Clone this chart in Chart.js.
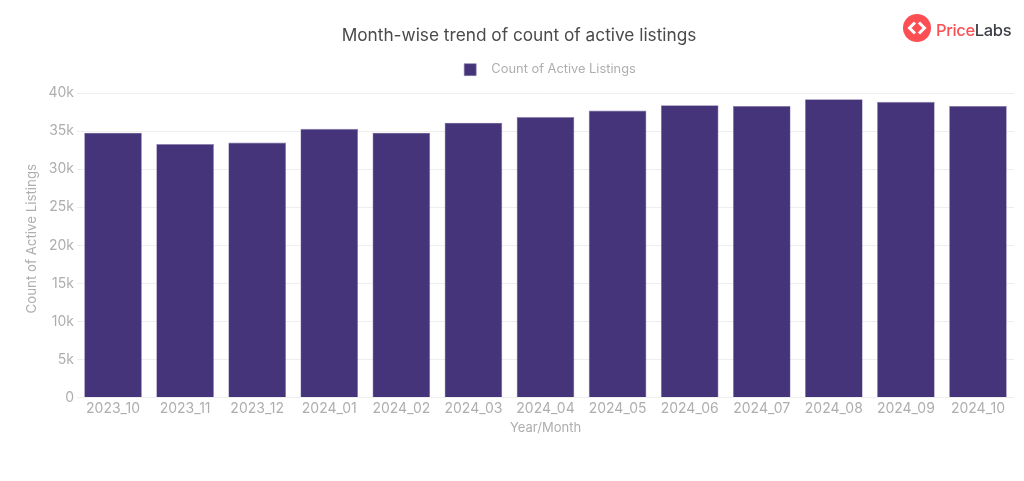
<!DOCTYPE html>
<html>
<head>
<meta charset="utf-8">
<title>Month-wise trend of count of active listings</title>
<script src="https://cdn.jsdelivr.net/npm/chart.js@4.4.7/dist/chart.umd.min.js"></script>
<style>
    html, body { margin: 0; padding: 0; background: #fff; overflow: hidden; }
    #wrap { position: relative; width: 1024px; height: 481px; }
    #logo { position: absolute; left: 903px; top: 14px; height: 28px; display: flex; align-items: center; }
    #logo span { font: 500 16.5px Inter, sans-serif; margin-left: 5px; color: #fb4f53; letter-spacing: -0.35px; padding-top: 3px; }
    #logo b { font-weight: 500; color: #3c3f46; }
</style>
</head>
<body>
<div id="wrap">
    <canvas id="chart" width="1024" height="481"></canvas>
    <div id="logo">
        <svg width="28" height="28" viewBox="0 0 28 28">
            <circle cx="14" cy="14" r="14" fill="#fb4f53"/>
            <path d="M12 8.5 L6.5 14 L12 19.5 M16 8.5 L21.5 14 L16 19.5" fill="none" stroke="#fff" stroke-width="3"/>
        </svg>
        <span>Price<b>Labs</b></span>
    </div>
</div>
<script>
const months = ['2023_10', '2023_11', '2023_12', '2024_01', '2024_02', '2024_03', '2024_04',
    '2024_05', '2024_06', '2024_07', '2024_08', '2024_09', '2024_10'];
const activeListings = [34800, 33300, 33500, 35300, 34800, 36100, 36850, 37700, 38400, 38300, 39200, 38850, 38300];

const font = 'Inter, sans-serif';
const gray = '#aeaeae';

// title and legend sit right of centre in the original
const nudgeHeader = {
    id: 'nudgeHeader',
    afterLayout(chart) {
        const legend = chart.legend;
        legend.left += 33;
        legend.right += 33;
        legend.top -= 7;
        legend.bottom -= 7;
        chart.titleBlock.left += 2;
        chart.titleBlock.right += 2;
    }
};

new Chart(document.getElementById('chart'), {
    type: 'bar',
    data: {
        labels: months,
        datasets: [{
            label: 'Count of Active Listings',
            data: activeListings,
            backgroundColor: '#46347a',
            borderColor: '#8d80ae',
            borderWidth: 0.6,
            barPercentage: 0.8,
            categoryPercentage: 1
        }]
    },
    plugins: [nudgeHeader],
    options: {
        responsive: false,
        animation: false,
        layout: { padding: { left: 20, right: 10, top: 25, bottom: 45 } },
        plugins: {
            title: {
                display: true,
                text: 'Month-wise trend of count of active listings',
                color: '#4a4a4a',
                font: { family: font, size: 17.25, weight: '400' },
                padding: { top: 0, bottom: 14.5 }
            },
            legend: {
                labels: {
                    color: gray,
                    font: { family: font, size: 12.85 },
                    boxWidth: 12,
                    boxHeight: 12,
                    generateLabels: chart => Chart.defaults.plugins.legend.labels.generateLabels(chart)
                        .map(item => ({ ...item, text: '\u2002\u2009' + item.text }))
                }
            },
            tooltip: { enabled: false }
        },
        scales: {
            x: {
                grid: { display: false, drawTicks: false },
                border: { display: false },
                ticks: { color: gray, font: { family: font, size: 14 }, maxRotation: 0, autoSkip: false, padding: 3 },
                title: { display: true, text: 'Year/Month', color: gray, font: { family: font, size: 13 }, padding: { top: 0, bottom: 0 } }
            },
            y: {
                min: 0,
                max: 40000,
                afterFit: scale => { scale.width = 57; },
                grid: { color: '#eeeeee', drawTicks: false },
                border: { display: false },
                ticks: { stepSize: 5000, color: gray, font: { family: font, size: 14 }, padding: 3,
                    callback: v => v === 0 ? '0' : (v / 1000) + 'k' },
                // leading en spaces lift the label to where the original has it
                title: { display: true, text: '\u2002\u2002Count of Active Listings', color: gray, font: { family: font, size: 13.3 } }
            }
        }
    }
});
</script>
</body>
</html>
